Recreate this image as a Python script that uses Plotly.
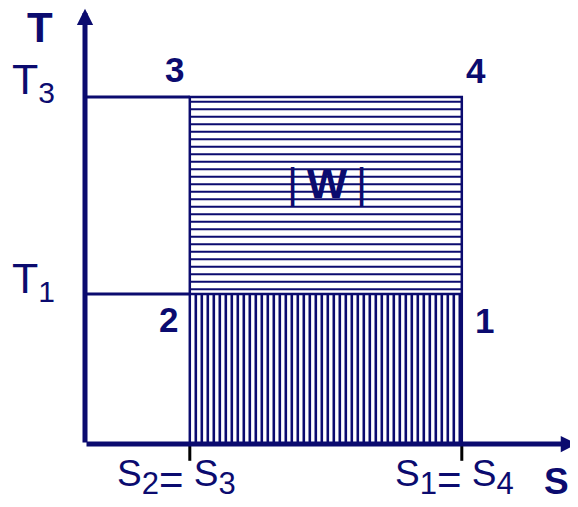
import numpy as np
import plotly.graph_objects as go

# ---- data (abstract T-S units) ----
S_left = 2.62    # S2 = S3
S_right = 9.42   # S1 = S4
T_low = 3.75     # T1
T_high = 8.675   # T3
S_axis_end = 12.3
T_axis_end = 10.88

corner_labels = ["1", "2", "3", "4"]
SUBEQ = "<sub><span style='font-size:31px'>{}</span><span style='font-size:42px'>=</span></sub>"
SUB = "<sub><span style='font-size:31px'>{}</span></sub>"
tick_labels_S = ["S" + SUBEQ.format("2") + " S" + SUB.format("3"),
                 "S" + SUBEQ.format("1") + " S" + SUB.format("4")]
SUBT = "<sub><span style='font-size:30px'>{}</span></sub>"
tick_labels_T = ["T" + SUBT.format("1"), "T" + SUBT.format("3")]

NAVY = "#0b0b6f"
FONT = "Liberation Sans, Arial, sans-serif"

WIN_W, WIN_H = 578, 507
PAGE_OFF = 8                      # default body margin of the page
OX, OY, U = 85, 444, 40.0         # window pixel origin and px per unit


def px(xp, yp):
    return (xp - OX) / U, (OY - yp) / U


fig = go.Figure()

# hatching of the upper region (horizontal lines)
h_step = 7.5 / U
hy = np.arange(T_high - 0.62 * h_step, T_low + 0.3 * h_step, -h_step)
hx_list, hy_list = [], []
for y in hy:
    hx_list += [S_left, S_right, None]
    hy_list += [y, y, None]
fig.add_trace(go.Scatter(x=hx_list, y=hy_list, mode="lines",
                         line=dict(color=NAVY, width=2), hoverinfo="skip", showlegend=False))

# hatching of the lower region (vertical lines)
v_step = 6.0 / U
vx = np.arange(S_left + v_step, S_right - 0.3 * v_step, v_step)
vx_list, vy_list = [], []
for x in vx:
    vx_list += [x, x, None]
    vy_list += [0, T_low, None]
fig.add_trace(go.Scatter(x=vx_list, y=vy_list, mode="lines",
                         line=dict(color=NAVY, width=2.6), hoverinfo="skip", showlegend=False))

# cycle outline
fig.add_trace(go.Scatter(
    x=[S_left, S_right, S_right, S_left, S_left, None, S_left, S_right],
    y=[0, 0, T_high, T_high, 0, None, T_low, T_low],
    mode="lines", line=dict(color=NAVY, width=2.5), hoverinfo="skip", showlegend=False))

# connector lines from T axis to the cycle
fig.add_trace(go.Scatter(x=[0, S_left, None, 0, S_left], y=[T_low, T_low, None, T_high, T_high],
                         mode="lines", line=dict(color=NAVY, width=3), hoverinfo="skip", showlegend=False))

# tick marks on S axis
fig.add_trace(go.Scatter(x=[S_left, S_left, None, S_right, S_right], y=[0, -0.42, None, 0, -0.42],
                         mode="lines", line=dict(color="black", width=3), hoverinfo="skip", showlegend=False))

annotations = []
# axes arrows
annotations.append(dict(x=S_axis_end, y=0, ax=0, ay=0, xref="x", yref="y", axref="x", ayref="y",
                        showarrow=True, arrowhead=2, arrowwidth=5, arrowsize=0.65, arrowcolor=NAVY, text=""))
annotations.append(dict(x=0, y=T_axis_end, ax=0, ay=0, xref="x", yref="y", axref="x", ayref="y",
                        showarrow=True, arrowhead=2, arrowwidth=5, arrowsize=0.65, arrowcolor=NAVY, text=""))


def label(text, xp, yp, size, bold=False, xanchor="center", yanchor="middle"):
    x, y = px(xp, yp)
    if bold:
        text = "<b>" + text + "</b>"
    annotations.append(dict(x=x, y=y, xref="x", yref="y", text=text, showarrow=False,
                            xanchor=xanchor, yanchor=yanchor,
                            font=dict(family=FONT, size=size, color=NAVY)))


label("T", 40, 27, 42, bold=True)
label("S", 556, 481, 37, bold=True)
label(tick_labels_T[1], 10, 82, 43, xanchor="left")
label(tick_labels_T[0], 10, 281, 43, xanchor="left")
label(tick_labels_S[0], 115, 478, 37, xanchor="left")
label(tick_labels_S[1], 393, 478, 37, xanchor="left")
label(corner_labels[2], 174, 69, 35, bold=True)
label(corner_labels[3], 476, 70, 35, bold=True)
label(corner_labels[1], 168, 319, 35, bold=True)
label(corner_labels[0], 484, 320, 35, bold=True)
label("|\u2009<b>W</b>\u2009|", 327, 183, 43)

x0, _ = px(PAGE_OFF, 0)
x1, _ = px(WIN_W, 0)
_, y0 = px(0, WIN_H)
_, y1 = px(0, PAGE_OFF)

fig.update_layout(
    width=WIN_W - PAGE_OFF, height=WIN_H - PAGE_OFF, autosize=False,
    margin=dict(l=0, r=0, t=0, b=0),
    paper_bgcolor="white", plot_bgcolor="white",
    xaxis=dict(range=[x0, x1], visible=False, fixedrange=True),
    yaxis=dict(range=[y0, y1], visible=False, fixedrange=True),
    annotations=annotations,
    showlegend=False,
)

fig.write_html("out.html")
